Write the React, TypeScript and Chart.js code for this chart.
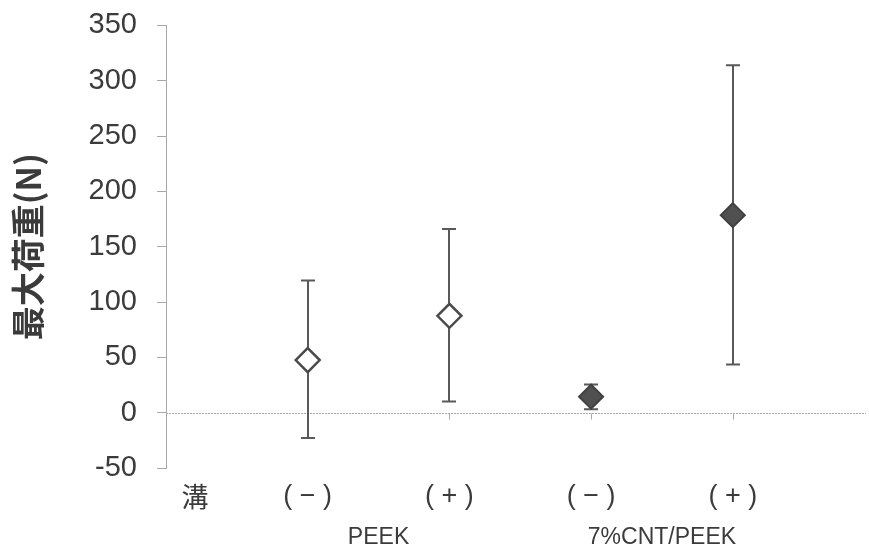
import React, { useEffect, useRef } from "react";
import { Chart, registerables } from "chart.js";

Chart.register(...registerables);

const groupLabels = ["PEEK", "7%CNT/PEEK"];
const categoryLabels = ["( − )", "( + )", "( − )", "( + )"];
const rowLabel = "溝";
const meanValues = [47.5, 87.5, 14.5, 178.5];
const upperValues = [119.5, 166, 25.5, 314];
const lowerValues = [-23, 10, 3, 43.5];
const yTickValues = [-50, 0, 50, 100, 150, 200, 250, 300, 350];
const yTitle = "最大荷重(N)";

const TEXT = "#3b3b3b";
const AXIS = "#a8a8a8";
const SHIFT = 12;

const overlay = {
  id: "overlay",
  beforeDatasetsDraw(chart: any) {
    const { ctx, chartArea, scales } = chart;
    const x = scales.x;
    const y = scales.y;
    ctx.save();
    const y0 = Math.round(y.getPixelForValue(0)) + 0.5;
    ctx.strokeStyle = AXIS;
    ctx.lineWidth = 1;
    ctx.setLineDash([2, 1]);
    ctx.beginPath();
    ctx.moveTo(chartArea.left, y0);
    ctx.lineTo(chartArea.right, y0);
    ctx.stroke();
    ctx.setLineDash([]);
    meanValues.forEach((_, i) => {
      const px = Math.round(x.getPixelForValue(i + 1)) + 0.5;
      ctx.beginPath();
      ctx.moveTo(px, y0);
      ctx.lineTo(px, y0 + 6);
      ctx.stroke();
    });
    ctx.strokeStyle = "#595959";
    ctx.lineWidth = 2;
    meanValues.forEach((_, i) => {
      const px = Math.round(x.getPixelForValue(i + 1));
      const yt = y.getPixelForValue(upperValues[i]);
      const yb = y.getPixelForValue(lowerValues[i]);
      ctx.beginPath();
      ctx.moveTo(px, yt);
      ctx.lineTo(px, yb);
      ctx.moveTo(px - 7, yt);
      ctx.lineTo(px + 7, yt);
      ctx.moveTo(px - 7, yb);
      ctx.lineTo(px + 7, yb);
      ctx.stroke();
    });
    ctx.restore();
  },
  afterDraw(chart: any) {
    const { ctx, scales, chartArea } = chart;
    const x = scales.x;
    const base = chartArea.bottom;
    ctx.save();
    ctx.fillStyle = TEXT;
    ctx.textAlign = "center";
    ctx.textBaseline = "middle";
    ctx.font = '27px "Noto Sans CJK JP", sans-serif';
    ctx.fillText(rowLabel, 195, base + 29);
    ctx.font = '27px "Liberation Sans", Arial, sans-serif';
    categoryLabels.forEach((lab, i) => {
      ctx.fillText(lab, x.getPixelForValue(i + 1), base + 29);
    });
    ctx.font = '23px "Liberation Sans", Arial, sans-serif';
    groupLabels.forEach((lab, g) => {
      const cx = x.getPixelForValue(g * 2 + 1.5);
      ctx.fillText(lab, cx, base + 70);
    });
    ctx.restore();
  },
};

export default function App() {
  const ref = useRef<HTMLCanvasElement | null>(null);
  useEffect(() => {
    document.body.style.margin = "0";
    const canvas = ref.current;
    if (!canvas) return;
    const peekPts = [0, 1].map((i) => ({ x: i + 1, y: meanValues[i] }));
    const cntPts = [2, 3].map((i) => ({ x: i + 1, y: meanValues[i] }));
    const chart = new Chart(canvas, {
      type: "scatter",
      data: {
        datasets: [
          {
            label: groupLabels[0],
            data: peekPts,
            pointStyle: "rectRot",
            pointRadius: 12,
            pointBorderWidth: 2.5,
            pointBackgroundColor: "#ffffff",
            pointBorderColor: "#4a4a4a",
          },
          {
            label: groupLabels[1],
            data: cntPts,
            pointStyle: "rectRot",
            pointRadius: 12,
            pointBorderWidth: 2,
            pointBackgroundColor: "#505050",
            pointBorderColor: "#404040",
          },
        ],
      },
      options: {
        responsive: false,
        animation: false,
        layout: { autoPadding: false, padding: { top: 13, bottom: 85, right: 3, left: 0 } },
        plugins: { legend: { display: false }, tooltip: { enabled: false } },
        scales: {
          x: {
            type: "linear",
            min: 0,
            max: 4.94,
            display: false,
          },
          y: {
            type: "linear",
            min: -50,
            max: 350,
            afterBuildTicks: (s: any) => {
              s.ticks = yTickValues.map((v) => ({ value: v }));
            },
            afterFit: (s: any) => {
              s.width = 166;
            },
            grid: {
              drawOnChartArea: false,
              drawTicks: true,
              tickLength: 9,
              color: AXIS,
            },
            border: { display: true, color: AXIS, width: 1 },
            ticks: {
              padding: 20,
              color: TEXT,
              font: { family: '"Liberation Sans", Arial, sans-serif', size: 29 },
            },
            title: {
              display: true,
              text: yTitle,
              color: TEXT,
              padding: { top: 8, bottom: 0 },
              font: { family: '"Noto Sans CJK JP", sans-serif', size: 34, weight: "bold" },
            },
          },
        },
      },
      plugins: [overlay],
    });
    return () => chart.destroy();
  }, []);
  return (
    <div style={{ width: 869, height: 553, background: "#fff", overflow: "hidden" }}>
      <canvas
        ref={ref}
        width={869}
        height={553 + SHIFT}
        style={{ display: "block", marginTop: -SHIFT }}
      />
    </div>
  );
}
